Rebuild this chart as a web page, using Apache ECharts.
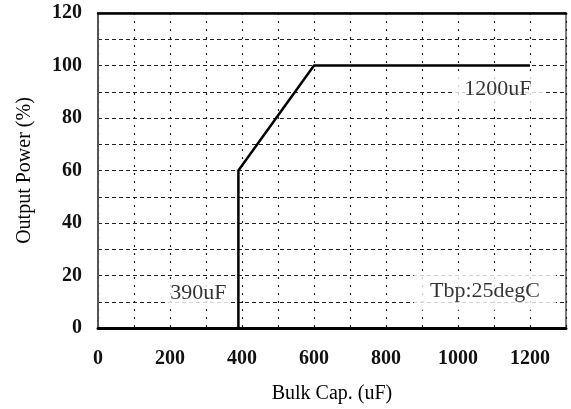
<!DOCTYPE html>
<html>
<head>
<meta charset="utf-8">
<script src="https://cdn.jsdelivr.net/npm/echarts@6/dist/echarts.min.js"></script>
<style>
  html, body { margin: 0; padding: 0; background: #fff; }
  #chart { width: 571px; height: 409px; }
</style>
</head>
<body>
<div id="chart"></div>
<script>
// Derating curve: output power vs. bulk capacitance
var curveCap = [390, 390, 600, 1200];      // uF
var curvePower = [0, 60, 100, 100];        // %

var xTickLabels = [0, 200, 400, 600, 800, 1000, 1200];
var yTickLabels = [0, 20, 40, 60, 80, 100, 120];

var noteText = ['390uF', '1200uF', 'Tbp:25degC'];
var noteCap = [279, 1111, 1075];
var notePower = [13.2, 91, 14];

var FONT = '"Liberation Serif", "Times New Roman", serif';

var chart = echarts.init(document.getElementById('chart'));

var curveData = curveCap.map(function (c, i) { return [c, curvePower[i]]; });
var notePadding = [[3, 4], [3, 12], [8, 16]];
var noteData = noteText.map(function (t, i) {
  return { value: [noteCap[i], notePower[i]], name: t, label: { padding: notePadding[i] } };
});

chart.setOption({
  animation: false,
  backgroundColor: '#fff',
  grid: {
    left: 98, right: 5, top: 13, bottom: 78,
    show: true, borderColor: '#000', borderWidth: 1, backgroundColor: 'transparent'
  },
  xAxis: [{
    type: 'value', min: 0, max: 1300, interval: 100,
    name: 'Bulk Cap. (uF)', nameLocation: 'middle', nameGap: 56,
    nameTextStyle: { fontFamily: FONT, fontSize: 20, color: '#000' },
    axisLine: { show: true, lineStyle: { color: '#000', width: 3 } },
    axisTick: { show: false },
    axisLabel: {
      margin: 21, fontFamily: FONT, fontSize: 20, fontWeight: 'bold', color: '#111',
      formatter: function (v) { return xTickLabels.indexOf(v) >= 0 ? String(v) : ''; }
    },
    splitLine: { show: true, lineStyle: { color: '#222', width: 1.2, type: [2, 6] } }
  }, {
    type: 'value', min: 0, max: 1300, position: 'top',
    axisLine: { show: true, lineStyle: { color: '#000', width: 2.5 } },
    axisTick: { show: false }, axisLabel: { show: false }, splitLine: { show: false }
  }],
  yAxis: {
    type: 'value', min: 0, max: 120, interval: 10,
    name: 'Output Power (%)', nameLocation: 'middle', nameGap: 63,
    nameTextStyle: { fontFamily: FONT, fontSize: 20, color: '#000' },
    axisLine: { show: true, lineStyle: { color: '#555', width: 2 } },
    axisTick: { show: false },
    axisLabel: {
      margin: 16, fontFamily: FONT, fontSize: 20, fontWeight: 'bold', color: '#111',
      formatter: function (v) { return yTickLabels.indexOf(v) >= 0 ? String(v) : ''; }
    },
    splitLine: { show: true, lineStyle: { color: '#222', width: 1.2, type: [4, 3] } }
  },
  series: [{
    type: 'line',
    data: curveData,
    showSymbol: false,
    lineStyle: { color: '#000', width: 2.5 },
    z: 5
  }, {
    type: 'scatter',
    data: noteData,
    symbolSize: 0,
    silent: true,
    z: 4,
    label: {
      show: true,
      position: 'inside',
      formatter: '{b}',
      fontFamily: FONT, fontSize: 22, color: '#000',
      backgroundColor: '#fff'
    }
  }]
});
</script>
</body>
</html>
